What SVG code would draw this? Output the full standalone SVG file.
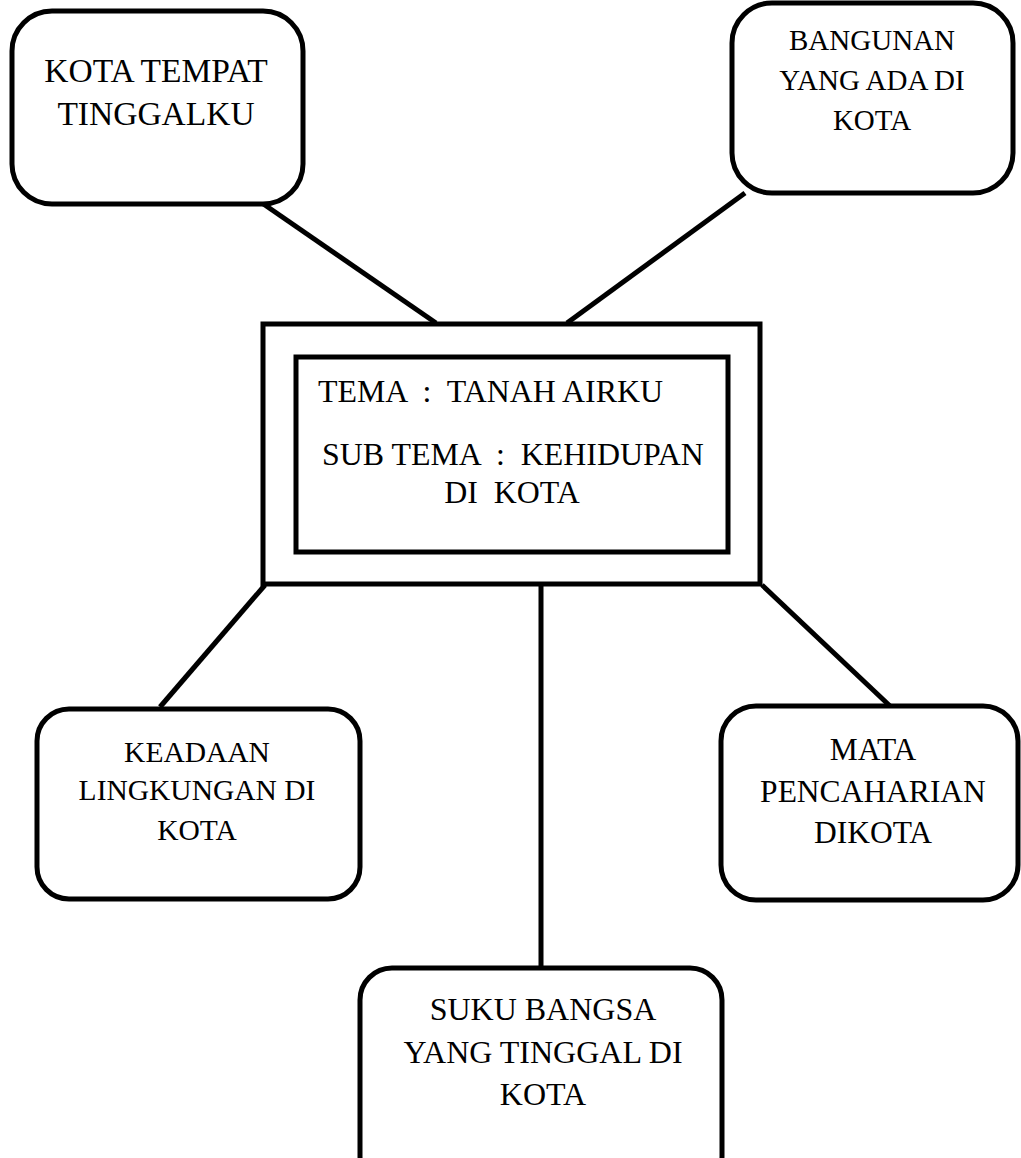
<svg xmlns="http://www.w3.org/2000/svg" width="1021" height="1158" viewBox="0 0 1021 1158">
<style>
.box{fill:#fff;stroke:#000;stroke-width:5}
.rect{fill:none;stroke:#000;stroke-width:5}
.t{fill:#000;text-anchor:middle;white-space:pre}
.c{stroke:#000;stroke-width:5;fill:none}
</style>
<rect width="1021" height="1158" fill="#fff"/>
<g id="connectors">
<line class="c" x1="262" y1="203" x2="436" y2="323"/>
<line class="c" x1="745" y1="193" x2="567" y2="323"/>
<line class="c" x1="265" y1="585" x2="160" y2="707"/>
<line class="c" x1="541" y1="585" x2="541" y2="968"/>
<line class="c" x1="762" y1="585" x2="890" y2="706"/>
</g>
<g font-family="'Liberation Serif', 'Times New Roman', 'DejaVu Serif', serif">
<g id="center">
<rect class="rect" x="263" y="324" width="497" height="260"/>
<rect class="rect" x="296" y="357" width="432" height="195"/>
<text class="t" x="318" y="402" font-size="31.9" style="text-anchor:start">TEMA  :  TANAH AIRKU</text>
<text class="t" x="322" y="465" font-size="31.9" style="text-anchor:start">SUB TEMA  :  KEHIDUPAN</text>
<text class="t" x="512" y="503" font-size="31.9">DI  KOTA</text>
</g>
<g id="node-kota-tempat">
<rect class="box" x="12" y="11" width="291" height="193" rx="40"/>
<text class="t" x="156" y="82" font-size="33.5">KOTA TEMPAT</text>
<text class="t" x="156" y="125" font-size="33.5">TINGGALKU</text>
</g>
<g id="node-bangunan">
<rect class="box" x="732" y="3" width="281" height="190" rx="40"/>
<text class="t" x="872" y="50" font-size="29">BANGUNAN</text>
<text class="t" x="872" y="90" font-size="29">YANG ADA DI</text>
<text class="t" x="872" y="130" font-size="29">KOTA</text>
</g>
<g id="node-keadaan">
<rect class="box" x="37" y="709" width="323" height="190" rx="32"/>
<text class="t" x="197" y="762" font-size="29.5">KEADAAN</text>
<text class="t" x="197" y="800" font-size="29.5">LINGKUNGAN DI</text>
<text class="t" x="197" y="840" font-size="29.5">KOTA</text>
</g>
<g id="node-mata">
<rect class="box" x="721" y="706" width="297" height="194" rx="35"/>
<text class="t" x="873" y="760" font-size="31.5">MATA</text>
<text class="t" x="873" y="802" font-size="31.5">PENCAHARIAN</text>
<text class="t" x="873" y="843" font-size="31.5">DIKOTA</text>
</g>
<g id="node-suku">
<rect class="box" x="360" y="968" width="362" height="220" rx="32"/>
<text class="t" x="543" y="1020" font-size="32">SUKU BANGSA</text>
<text class="t" x="543" y="1063" font-size="32">YANG TINGGAL DI</text>
<text class="t" x="543" y="1105" font-size="32">KOTA</text>
</g>
</g>
</svg>
